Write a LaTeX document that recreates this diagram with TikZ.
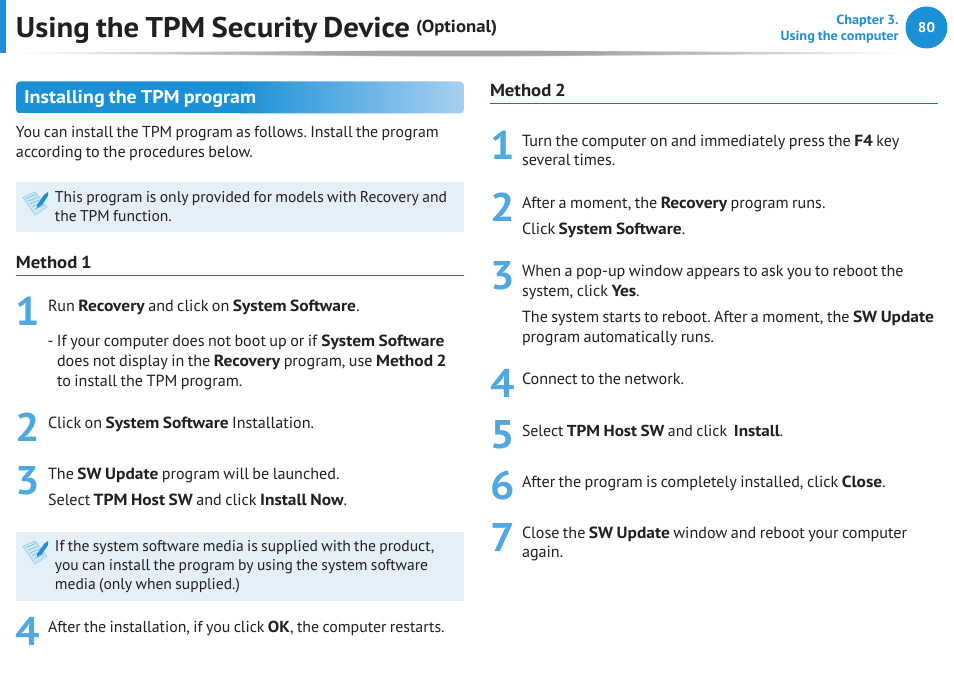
\documentclass[tikz,border=0pt]{standalone}
\usepackage{fontspec}
\setmainfont{PT Sans}[WordSpace=0.8,BoldFeatures={FakeStretch=1.08}]
\usetikzlibrary{shadings}
\definecolor{tpmblue}{HTML}{1B90D7}
\definecolor{tpmlight}{HTML}{A8D0F0}
\definecolor{tpmnum}{HTML}{4FA8E2}
\definecolor{tpmnote}{HTML}{E4EFF8}
\definecolor{tpmtext}{HTML}{231F20}
\newcount\tpmc
\newcommand{\tx}[3]{\global\advance\tpmc by 1 \node[bodytext] (t\the\tpmc) at (#1,#2) {#3};}
\newcommand{\tz}[3]{\global\advance\tpmc by 1 \node[tighttext] (t\the\tpmc) at (#1,#2) {#3};}
\newcommand{\nt}[3]{\global\advance\tpmc by 1 \node[notetext] (t\the\tpmc) at (#1,#2) {#3};}
\newcommand{\nm}[3]{\global\advance\tpmc by 1 \node[stepnum] (n\the\tpmc) at (#1,#2) {#3};}
\newcommand{\noteicon}[2]{\begin{scope}[shift={(#1,#2)}]
\fill[tpmblue!22,draw=tpmblue!50,line width=.4pt] (0,5.3)--(12,0)--(24,15)--(12,23)--cycle;
\foreach \k in {0,1,2,3,4}{\draw[tpmblue!65,line width=.4pt] (3+\k*2.1,6.5+\k*2.7)--(12.5+\k*2.1,2.5+\k*2.7);}
\fill[tpmblue] (14,13)--(21,3)--(25,0)--(25,4)--(19,13)--(14,16)--cycle;
\end{scope}}
\tikzset{x=0.75pt,y=-0.75pt,
 bodytext/.style={anchor=base west,inner sep=0pt,outer sep=0pt,font=\fontsize{12.1pt}{14pt}\selectfont\frenchspacing,text=tpmtext},
 tighttext/.style={bodytext,font=\fontsize{11.9pt}{14pt}\selectfont\frenchspacing},
 notetext/.style={bodytext,font=\fontsize{11.7pt}{14pt}\selectfont\frenchspacing},
 stepnum/.style={anchor=base west,inner sep=0pt,outer sep=0pt,font=\fontsize{30pt}{30pt}\selectfont\bfseries,text=tpmnum},
 headtext/.style={bodytext,font=\fontsize{13pt}{15pt}\selectfont\bfseries},
 rulegline/.style={tpmblue!85!black,line width=.6pt}}
\begin{document}
\begin{tikzpicture}
\useasboundingbox (0,0) rectangle (954,677);
\fill[white] (0,0) rectangle (954,677);
% header
\fill[tpmblue] (0,0) rectangle (6,53);
\foreach \w/\h in {455/3.5,420/3.8,380/4,340/4.3,300/4.5,260/4.8,210/5,160/5.2}{
 \fill[black,opacity=.05] (460-\w,53) .. controls (460-\w/2,53+\h) and (460+\w/2,53+\h) .. (460+\w,53)
   .. controls (460+\w/2,53-\h/1.4) and (460-\w/2,53-\h/1.4) .. (460-\w,53) -- cycle;}
\node[bodytext,font=\fontsize{21.4pt}{26pt}\selectfont\bfseries] (title) at (16,38) {Using the TPM Security Device};
\node[bodytext,font=\fontsize{13pt}{14pt}\selectfont\bfseries] (opt) at (416,33) {(Optional)};
\node[anchor=base east,inner sep=0pt,text=tpmblue,font=\fontsize{9.95pt}{11pt}\selectfont\bfseries] (ch) at (899,25) {Chapter 3.};
\node[anchor=base east,inner sep=0pt,text=tpmblue,font=\fontsize{9.95pt}{11pt}\selectfont\bfseries] (ch2) at (899,40.5) {Using the computer};
\fill[tpmblue] (926.5,27.5) circle[radius=21];
\node[text=white,inner sep=0pt,font=\fontsize{10.5pt}{12pt}\selectfont\bfseries] (page) at (926.5,27.5) {80};
% banner
\begin{scope}
\clip[rounded corners=3pt] (16,81.5) rectangle (464,113.5);
\fill[tpmblue] (16,81.5) rectangle (240.5,113.5);
\shade[left color=tpmblue,right color=tpmlight] (240,81.5) rectangle (464,113.5);
\end{scope}
\node[bodytext,text=white,font=\fontsize{13.9pt}{15pt}\selectfont\bfseries] (ban) at (24,104) {Installing the TPM program};
\tz{16}{137.5}{You can install the TPM program as follows. Install the program}
\tx{16}{157.5}{according to the procedures below.}
% note 1
\fill[tpmnote] (16,182.5) rectangle (464,232.5);
\noteicon{23}{192}
\nt{55}{202.5}{This program is only provided for models with Recovery and}
\nt{55}{221.5}{the TPM function.}
% method 1
\node[headtext] (m1) at (16,269) {Method 1};
\draw[rulegline] (16,275.5)--(464,275.5);
\nm{16}{326}{1}
\tx{48}{311.5}{Run \textbf{Recovery} and click on \textbf{System Software}.}
\tx{57}{346.5}{\hbox to 0pt{\hss- }If your computer does not boot up or if \textbf{System Software}}
\tx{57}{366.5}{does not display in the \textbf{Recovery} program, use \textbf{Method 2}}
\tx{57}{386.5}{to install the TPM program.}
\nm{16}{441}{2}
\tx{48}{428.5}{Click on \textbf{System Software} Installation.}
\nm{16}{494}{3}
\tx{48}{479.5}{The \textbf{SW Update} program will be launched.}
\tx{48}{505.5}{Select \textbf{TPM Host SW} and click \textbf{Install Now}.}
% note 2
\fill[tpmnote] (16,531.5) rectangle (464,600.5);
\noteicon{23}{541}
\nt{55}{551.5}{If the system software media is supplied with the product,}
\nt{55}{570.5}{you can install the program by using the system software}
\nt{55}{589.5}{media (only when supplied.)}
\nm{16}{645}{4}
\tz{48}{632.5}{After the installation, if you click \textbf{OK}, the computer restarts.}
% method 2
\node[headtext] (m2) at (490,96.5) {Method 2};
\draw[rulegline] (490,103.5)--(938,103.5);
\nm{490}{160}{1}
\tx{522}{146.5}{Turn the computer on and immediately press the \textbf{F4} key}
\tx{522}{165.5}{several times.}
\nm{490}{222}{2}
\tx{522}{208.5}{After a moment, the \textbf{Recovery} program runs.}
\tx{522}{234.5}{Click \textbf{System Software}.}
\nm{490}{290}{3}
\tx{522}{276.5}{When a pop-up window appears to ask you to reboot the}
\tx{522}{296.5}{system, click \textbf{Yes}.}
\tx{522}{322.5}{The system starts to reboot. After a moment, the \textbf{SW Update}}
\tx{522}{342.5}{program automatically runs.}
\nm{490}{398}{4}
\tx{522}{384.5}{Connect to the network.}
\nm{490}{449}{5}
\tz{522}{436.5}{Select \textbf{TPM Host SW} and click \ \textbf{Install}.}
\nm{490}{499}{6}
\tx{522}{487.5}{After the program is completely installed, click \textbf{Close}.}
\nm{490}{551}{7}
\tx{522}{538.5}{Close the \textbf{SW Update} window and reboot your computer}
\tx{522}{557.5}{again.}
\end{tikzpicture}
\end{document}
